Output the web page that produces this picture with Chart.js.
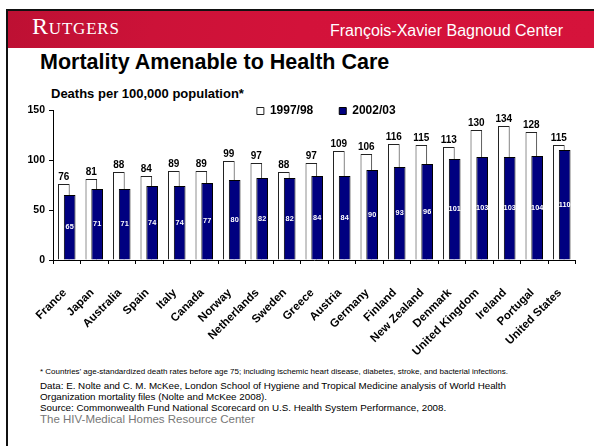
<!DOCTYPE html>
<html>
<head>
<meta charset="utf-8">
<script src="https://cdn.jsdelivr.net/npm/chart.js@4.4.1/dist/chart.umd.min.js"></script>
<style>
  html, body { margin: 0; padding: 0; background: #fff; }
  body { width: 594px; height: 446px; position: relative; overflow: hidden; font-family: Arial, "Liberation Sans", sans-serif; }
  .abs { position: absolute; white-space: nowrap; line-height: 1; }
  #banner { position: absolute; left: 8px; top: 11px; width: 586px; height: 37px;
    background: linear-gradient(100deg, #bd1033 0%, #cc1238 25%, #d3123a 50%, #d5133b 100%); }
  #topline { position: absolute; left: 6px; top: 9px; width: 588px; height: 2px; background: #111; }
  #leftline { position: absolute; left: 6px; top: 9px; width: 2px; height: 437px; background: #111; }
  #rutgers { font-family: "Liberation Serif", "DejaVu Serif", serif; color: #fff; font-size: 24px; left: 32px; top: 14px; font-variant: small-caps; letter-spacing: 0.8px; }
  #fxb { color: #fff; font-size: 16px; right: 31px; top: 23px; }
  #title { font-weight: bold; font-size: 21.5px; left: 40px; top: 51.8px; color: #000; }
  #ycap { font-weight: bold; font-size: 13px; left: 51px; top: 86.6px; color: #000; }
  #note { font-size: 8px; left: 40px; top: 368px; color: #000; }
  .src { font-size: 9.8px; left: 40px; color: #000; }
  #hiv { font-size: 11.5px; left: 40px; top: 414px; color: #777; }
  #chartWrap { position: absolute; left: 0; top: 62px; width: 594px; height: 298px; }
</style>
</head>
<body>
<div id="banner"></div>
<div id="topline"></div>
<div id="leftline"></div>
<div class="abs" id="rutgers">Rutgers</div>
<div class="abs" id="fxb">François-Xavier Bagnoud Center</div>
<div class="abs" id="title">Mortality Amenable to Health Care</div>
<div class="abs" id="ycap">Deaths per 100,000 population*</div>
<div id="chartWrap"><canvas id="c" width="594" height="298"></canvas></div>
<div class="abs" id="note">* Countries’ age-standardized death rates before age 75; including ischemic heart disease, diabetes, stroke, and bacterial infections.</div>
<div class="abs src" style="top:381.2px">Data: E. Nolte and C. M. McKee, London School of Hygiene and Tropical Medicine analysis of World Health</div>
<div class="abs src" style="top:392.2px">Organization mortality files (Nolte and McKee 2008).</div>
<div class="abs src" style="top:403.2px">Source: Commonwealth Fund National Scorecard on U.S. Health System Performance, 2008.</div>
<div class="abs" id="hiv">The HIV-Medical Homes Resource Center</div>
<script>
// ---- Data ----
const countries = ["France", "Japan", "Australia", "Spain", "Italy", "Canada", "Norway", "Netherlands", "Sweden", "Greece", "Austria", "Germany", "Finland", "New Zealand", "Denmark", "United Kingdom", "Ireland", "Portugal", "United States"];
const rate1997 = [76, 81, 88, 84, 89, 89, 99, 97, 88, 97, 109, 106, 116, 115, 113, 130, 134, 128, 115];
const rate2002 = [65, 71, 71, 74, 74, 77, 80, 82, 82, 84, 84, 90, 93, 96, 101, 103, 103, 104, 110];
const seriesNames = ["1997/98", "2002/03"];
const yTicks = [0, 50, 100, 150];

const FONT = 'Arial, "Liberation Sans", sans-serif';

const valueLabels = {
  id: 'valueLabels',
  afterDatasetsDraw(chart) {
    const ctx = chart.ctx;
    ctx.save();
    chart.data.datasets.forEach((ds, di) => {
      const meta = chart.getDatasetMeta(di);
      meta.data.forEach((bar, i) => {
        const v = ds.data[i];
        if (ds.inside) {
          ctx.font = 'bold 7.3px ' + FONT;
          ctx.fillStyle = '#ffffff';
          ctx.textAlign = 'center';
          ctx.textBaseline = 'middle';
          ctx.fillText(String(v), bar.x, (bar.y + bar.base) / 2);
        } else {
          ctx.font = 'bold 10px ' + FONT;
          ctx.fillStyle = '#000000';
          ctx.textAlign = 'center';
          ctx.textBaseline = 'alphabetic';
          ctx.fillText(String(v), bar.x, bar.y - 4);
        }
      });
    });
    ctx.restore();
  }
};

// moves the legend row so it sits level with the top tick label
const legendShift = {
  id: 'legendShift',
  afterLayout(chart) {
    const lg = chart.legend;
    if (lg) { lg.top += 17; lg.bottom += 17; lg.left += 12; lg.right += 12; }
  }
};

new Chart(document.getElementById('c'), {
  type: 'bar',
  data: {
    labels: countries,
    datasets: [
      { label: seriesNames[1], data: rate2002, backgroundColor: '#000080', borderColor: '#000000', borderWidth: 1, inside: true },
      { label: seriesNames[0], data: rate1997, backgroundColor: '#ffffff', borderColor: '#222222', borderWidth: 1, inside: false }
    ]
  },
  options: {
    responsive: false,
    animation: false,
    categoryPercentage: -0.424,
    barPercentage: -2,
    layout: { padding: { left: 0, right: 3, top: 0, bottom: 0 } },
    plugins: {
      legend: {
        display: true,
        position: 'top',
        fullSize: false,
        reverse: true,
        labels: {
          boxWidth: 7, boxHeight: 7, padding: 26,
          color: '#000',
          font: { family: FONT, size: 12, weight: 'bold' }
        }
      },
      tooltip: { enabled: false }
    },
    scales: {
      x: {
        offset: true,
        grid: { display: true, drawOnChartArea: false, drawTicks: true, tickLength: 4, color: '#000', offset: true },
        border: { display: true, color: '#000', width: 1 },
        ticks: {
          autoSkip: false, minRotation: 45, maxRotation: 45, padding: 22, labelOffset: -2,
          color: '#000',
          font: { family: FONT, size: 11.5, weight: 'bold' }
        },
        afterFit(scale) { scale.height = 100; }
      },
      y: {
        min: 0, max: 150,
        afterBuildTicks(scale) { scale.ticks = yTicks.map(v => ({ value: v })); },
        grid: { display: true, drawOnChartArea: false, drawTicks: true, tickLength: 4, color: '#000' },
        border: { display: true, color: '#000', width: 1 },
        ticks: {
          padding: 4, color: '#000',
          font: { family: FONT, size: 10.5, weight: 'bold' }
        },
        afterFit(scale) { scale.width = 53; }
      }
    }
  },
  plugins: [valueLabels, legendShift]
});
</script>
</body>
</html>
